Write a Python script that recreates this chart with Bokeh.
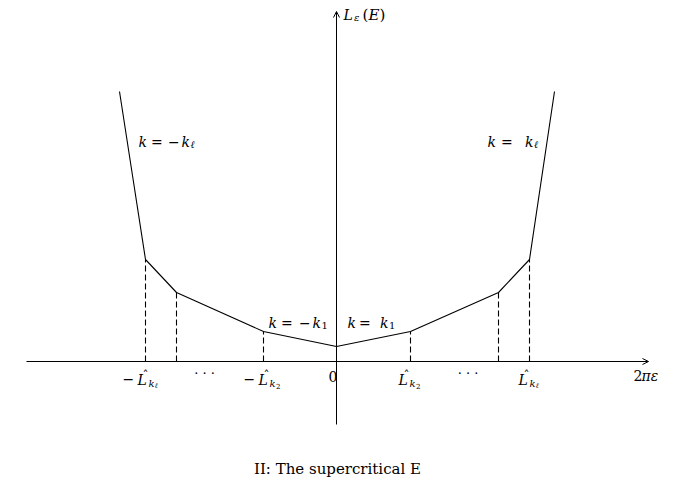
from bokeh.plotting import figure
from bokeh.models import Arrow, OpenHead, Range1d
from bokeh.embed import file_html
from bokeh.resources import INLINE
from bokeh.core.properties import value

# ---- data (schematic units) ----
break_x = [-21.7, -19.1, -16.0, -7.3, 0.0, 7.4, 16.2, 19.3, 21.8]
curve_y = [27.0, 10.2, 6.9, 3.0, 1.5, 3.0, 6.9, 10.2, 27.0]
dashed_idx = [1, 2, 3, 5, 6, 7]
x_axis_ends = [-31.0, 31.2]
y_axis_ends = [-6.3, 35.0]
caption = "II: The supercritical E"

FONT = "DejaVu Serif"
PX = 0.1    # data units per pixel
M = 14      # math font size
LIFT = 4    # baseline correction in pixels

p = figure(width=674, height=486, output_backend="svg", toolbar_location=None,
           x_axis_location=None, y_axis_location=None, min_border=0,
           x_range=Range1d(-33.6, 33.8), y_range=Range1d(-12.5, 36.1))
p.grid.visible = False
p.outline_line_color = None
p.background_fill_color = "white"

# axes with arrows
p.add_layout(Arrow(end=OpenHead(size=6, line_width=1), x_start=x_axis_ends[0], y_start=0,
                   x_end=x_axis_ends[1], y_end=0, line_width=1, line_color="black"))
p.add_layout(Arrow(end=OpenHead(size=6, line_width=1), x_start=0, y_start=y_axis_ends[0],
                   x_end=0, y_end=y_axis_ends[1], line_width=1, line_color="black"))

# curve
p.line(break_x, curve_y, line_color="black", line_width=1.1)

# dashed verticals
dx_ = [break_x[i] for i in dashed_idx]
dy_ = [curve_y[i] for i in dashed_idx]
p.segment(x0=dx_, y0=[0] * len(dx_), x1=dx_, y1=dy_, line_color="black",
          line_width=1.1, line_dash="6 3")


def put(pieces, ax, ay, align="left"):
    for (t, dx, dy, size, style) in pieces:
        p.text(x=[ax + dx * PX], y=[ay - (dy - LIFT) * PX], text=[t], text_font=value(FONT),
               text_font_size=f"{size}px", text_font_style=style,
               text_baseline="alphabetic", text_align=align, text_color="black")


def lhat(neg, sub2):
    pcs = []
    if neg:
        pcs.append(("\u2212", -25, 21, M, "normal"))
    pcs += [("L", -10, 22, M, "italic"),
            ("\u02c6", -5, 18, 12, "normal"),
            ("k", 1, 26, 10, "italic"),
            (sub2, 7.5, 28, 7, "italic" if sub2 == "\u2113" else "normal")]
    return pcs


put(lhat(True, "\u2113"), break_x[1] + 0.2, 0)
put(lhat(True, "2"), break_x[3] + 0.5, 0)
put(lhat(False, "2"), break_x[5] - 0.2, 0)
put(lhat(False, "\u2113"), break_x[7] - 0.1, 0)

# zero
put([("0", -8, 19, M, "normal")], 0, 0)

# dots
put([(". . .", 0, 12, 13, "normal")], (break_x[1] + break_x[3]) / 2, 0, align="center")
put([(". . .", 0, 12, 13, "normal")], (break_x[5] + break_x[7]) / 2 - 0.2, 0, align="center")

# x-axis label
put([("2", -15, 18, M, "normal"), ("\u03c0\u03b5", -7, 18, M, "italic")], x_axis_ends[1], 0)

# y-axis label
put([("L", 7, 7, M, "italic"), ("\u03b5", 17.5, 10, 10, "italic"),
     ("(", 26, 7, 15, "normal"), ("E", 32, 7, 15, "italic"), (")", 43, 7, 15, "normal")],
    0, y_axis_ends[1])

# branch labels
put([("k", 0, 0, M, "italic"), ("=", 12.5, 0, M, "normal"), ("\u2212", 29.5, 0, M, "normal"),
     ("k", 43, 0, M, "italic"), ("\u2113", 52, 3, 10, "italic")], -19.8, 21.6)
put([("k", 0, 0, M, "italic"), ("=", 13.5, 0, M, "normal"),
     ("k", 37.5, 0, M, "italic"), ("\u2113", 46.5, 3, 10, "italic")], 15.1, 21.6)
put([("k", 0, 0, M, "italic"), ("=", 12.5, 0, M, "normal"), ("\u2212", 30.5, 0, M, "normal"),
     ("k", 44, 0, M, "italic"), ("1", 53, 3, 10, "normal")], -6.8, 3.5)
put([("k", 0, 0, M, "italic"), ("=", 11.5, 0, M, "normal"),
     ("k", 32.5, 0, M, "italic"), ("1", 41.5, 3, 10, "normal")], 1.1, 3.5)

# caption
put([(caption, 1, 0, 15, "normal")], 0, -11.1, align="center")

open("out.html", "w").write(file_html(p, INLINE))
